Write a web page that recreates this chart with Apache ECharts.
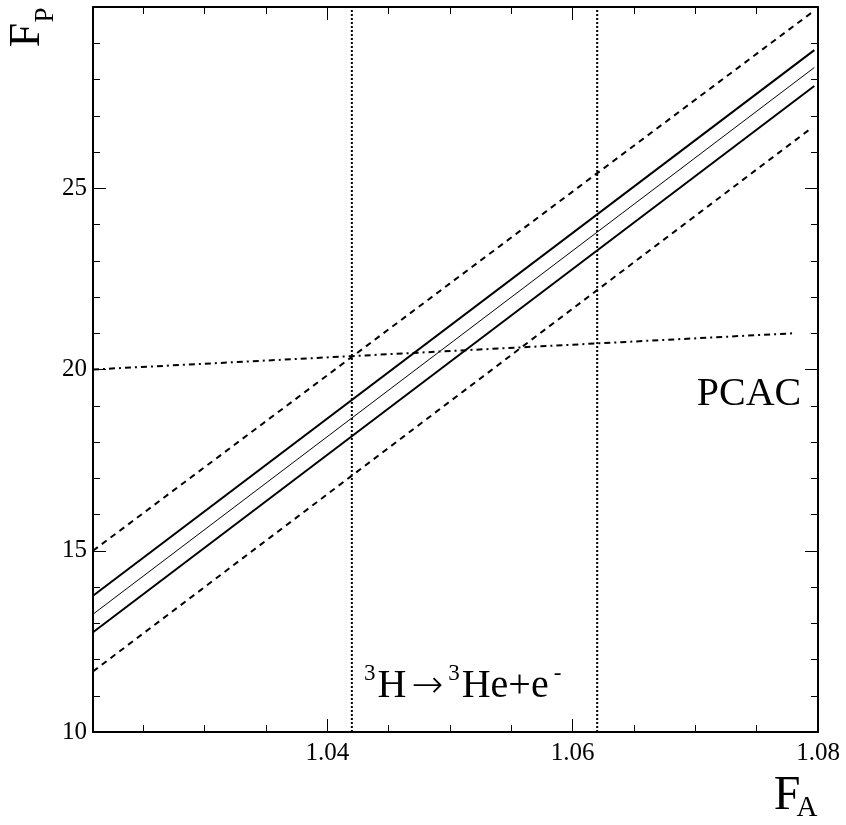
<!DOCTYPE html>
<html>
<head>
<meta charset="utf-8">
<title>F_P vs F_A</title>
<script src="https://cdn.jsdelivr.net/npm/echarts@6/dist/echarts.min.js"></script>
<style>
html, body { margin: 0; padding: 0; background: #fff; }
#main { width: 846px; height: 825px; }
</style>
</head>
<body>
<div id="main"></div>
<script>
// axis ranges and ticks
var xMin = 1.0209, xMax = 1.08;
var yMin = 10, yMax = 30;
var xMajor = [1.04, 1.06, 1.08];
var xMinor = [1.025, 1.03, 1.035, 1.045, 1.05, 1.055, 1.065, 1.07, 1.075];

// lines: [F_A, F_P] end points
var centralLine = [[1.0209, 13.25], [1.0797, 28.33]];
var upperSolid = [[1.0209, 13.76], [1.0797, 28.81]];
var lowerSolid = [[1.0209, 12.75], [1.0797, 27.82]];
var upperDashed = [[1.0209, 15.0], [1.0795, 29.85]];
var lowerDashed = [[1.0209, 11.67], [1.0795, 26.67]];
var pcacLine = [[1.0209, 20.0], [1.078, 21.0]];
var tritiumLow = [[1.042, 10], [1.042, 30]];
var tritiumHigh = [[1.062, 10], [1.062, 30]];

var serif = 'Liberation Serif, Times New Roman, serif';

function line(data, width, type) {
    return {
        type: 'line',
        data: data,
        showSymbol: false,
        silent: true,
        lineStyle: { color: '#000', width: width, type: type }
    };
}

function xAxis(pos, ticks, len, withLabels, withLine) {
    return {
        type: 'value', position: pos, min: xMin, max: xMax,
        splitLine: { show: false },
        axisLine: { show: withLine, onZero: false, lineStyle: { color: '#000', width: 2 } },
        axisTick: { inside: true, length: len, customValues: ticks, lineStyle: { color: '#000', width: 1 } },
        axisLabel: {
            show: withLabels, customValues: ticks, margin: 9,
            fontFamily: serif, fontSize: 25, color: '#000',
            formatter: function (v) { return v.toFixed(2); }
        }
    };
}

function yAxis(pos, withLabels) {
    return {
        type: 'value', position: pos, min: yMin, max: yMax, interval: 5,
        splitLine: { show: false },
        axisLine: { show: true, onZero: false, lineStyle: { color: '#000', width: 2 } },
        axisTick: { inside: true, length: 13, lineStyle: { color: '#000', width: 1 } },
        minorTick: { show: true, splitNumber: 5, length: 7, lineStyle: { color: '#000', width: 1 } },
        axisLabel: {
            show: withLabels, margin: 6,
            fontFamily: serif, fontSize: 25, color: '#000',
            formatter: function (v) { return v === 30 ? '' : String(v); }
        }
    };
}

var chart = echarts.init(document.getElementById('main'));
var option = {
    animation: false,
    backgroundColor: '#fff',
    grid: { left: 93, right: 28, top: 7, bottom: 93 },
    xAxis: [
        xAxis('bottom', xMajor, 13, true, true),
        xAxis('bottom', xMinor, 7, false, false),
        xAxis('top', xMajor, 13, false, true),
        xAxis('top', xMinor, 7, false, false)
    ],
    yAxis: [yAxis('left', true), yAxis('right', false)],
    series: [
        line(upperDashed, 2, [6, 5]),
        line(lowerDashed, 2, [6, 5]),
        line(upperSolid, 2, 'solid'),
        line(lowerSolid, 2, 'solid'),
        line(centralLine, 1, 'solid'),
        line(pcacLine, 2, [6, 4, 2, 4]),
        line(tritiumLow, 2, [2, 2]),
        line(tritiumHigh, 2, [2, 2])
    ],
    graphic: [
        // y axis title F_P (rotated)
        { type: 'text', x: 27, y: 35, rotation: Math.PI / 2,
          style: { text: 'F', font: '44px ' + serif, fill: '#000', align: 'center', verticalAlign: 'middle' } },
        { type: 'text', x: 46, y: 15, rotation: Math.PI / 2,
          style: { text: 'P', font: '27px ' + serif, fill: '#000', align: 'center', verticalAlign: 'middle' } },
        // x axis title F_A
        { type: 'text', x: 787, y: 796,
          style: { text: 'F', font: '48px ' + serif, fill: '#000', align: 'center', verticalAlign: 'middle' } },
        { type: 'text', x: 807, y: 808,
          style: { text: 'A', font: '29px ' + serif, fill: '#000', align: 'center', verticalAlign: 'middle' } },
        // annotations
        { type: 'text', x: 749, y: 394,
          style: { text: 'PCAC', font: '40px ' + serif, fill: '#000', align: 'center', verticalAlign: 'middle' } },
        { type: 'text', x: 364, y: 706,
          style: {
              text: '{s|3}{m|H}{a|\u2192}{s|3}{m|He+e}{sm|-}',
              align: 'left', verticalAlign: 'bottom', fill: '#000',
              rich: {
                  s: { fontFamily: serif, fontSize: 23, verticalAlign: 'top', lineHeight: 18,
                       padding: [0, 2, 0, 0], fill: '#000' },
                  sm: { fontFamily: serif, fontSize: 23, verticalAlign: 'top', lineHeight: 18,
                        padding: [0, 0, 0, 5], fill: '#000' },
                  m: { fontFamily: serif, fontSize: 40, verticalAlign: 'bottom', lineHeight: 44, fill: '#000' },
                  a: { fontFamily: 'DejaVu Sans', fontWeight: 200, fontSize: 38, verticalAlign: 'bottom',
                       lineHeight: 44, padding: [0, 5, 0, 5], fill: '#000' }
              }
          } }
    ]
};
chart.setOption(option);
</script>
</body>
</html>
